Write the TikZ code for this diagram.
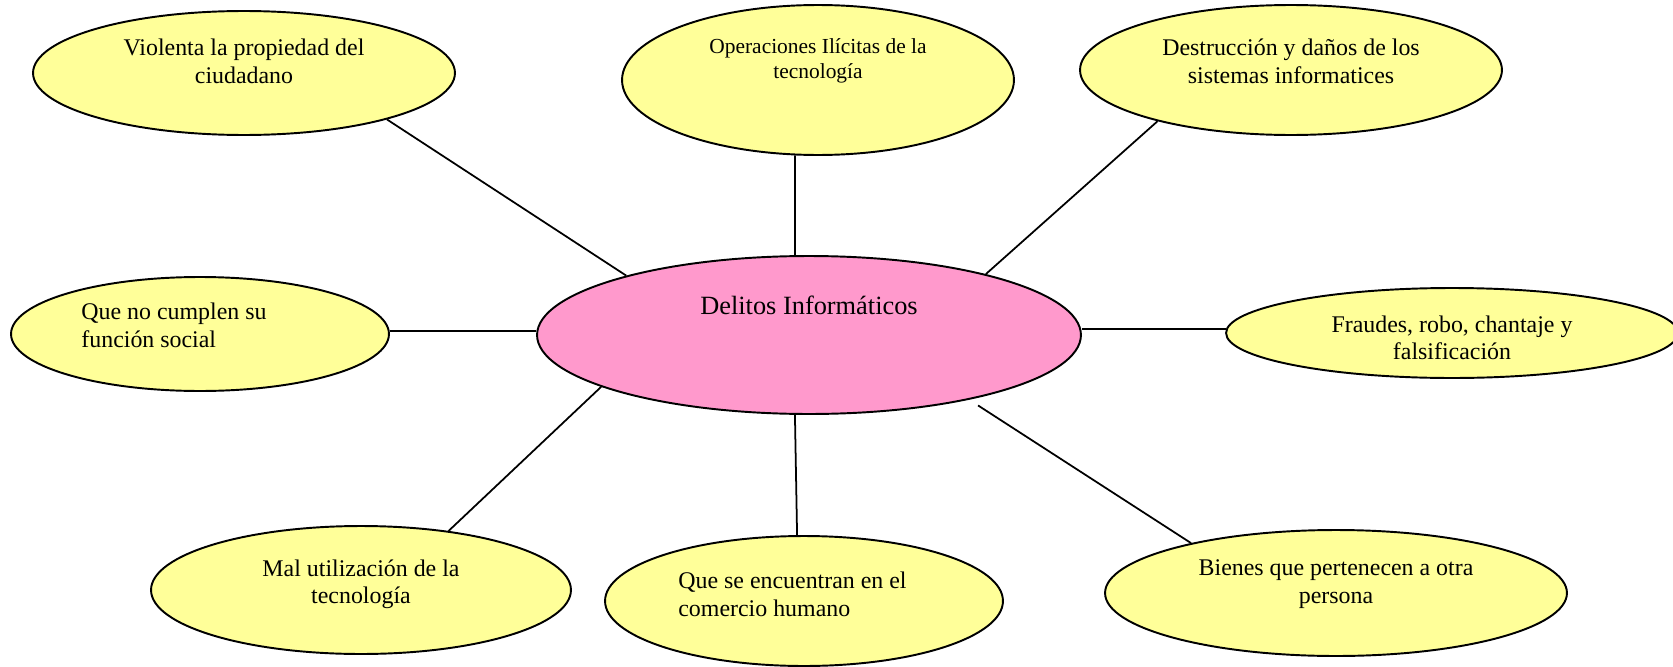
\documentclass[tikz,border=0pt]{standalone}
\usepackage{fontspec}
\setmainfont{Liberation Serif}
\usetikzlibrary{shapes.geometric}
\definecolor{bubyellow}{RGB}{255,255,153}
\definecolor{bubpink}{RGB}{255,153,204}
\tikzset{
	bub/.style={ellipse, draw, fill=bubyellow, inner sep=0pt, line width=1.1pt},
	txt/.style={inner sep=0pt, align=center, font=\fontsize{13.6}{15.8}\selectfont},
	link/.style={line width=1pt}
}
\begin{document}
\begin{tikzpicture}[x=0.02cm, y=-0.02cm]
		\useasboundingbox (0,0) rectangle (1673,666);
		\draw (809,335) node[bub, fill=bubpink, minimum width=10.88cm, minimum height=3.16cm](del){};
		\draw (244,73) node[bub, minimum width=8.44cm, minimum height=2.48cm](vio){};
		\draw (818,80) node[bub, minimum width=7.84cm, minimum height=3cm](ope){};
		\draw (1291,70) node[bub, minimum width=8.44cm, minimum height=2.6cm](des){};
		\draw (200,334) node[bub, minimum width=7.56cm, minimum height=2.28cm](que){};
		\draw (1452,333) node[bub, minimum width=9.04cm, minimum height=1.8cm](fra){};
		\draw (361,590) node[bub, minimum width=8.4cm, minimum height=2.56cm](mal){};
		\draw (804,601) node[bub, minimum width=7.96cm, minimum height=2.6cm](com){};
		\draw (1336,593) node[bub, minimum width=9.24cm, minimum height=2.52cm](bie){};
		\draw[link] (vio.-18) -- (del.162) (ope.-107) -- (del.100) (des.-159) -- (del.19);
		\draw[link] (que.1.5) -- (que.1.5 -| del.west) (fra.179 -| del.east) -- (fra.179);
		\draw[link] (mal.34) -- (del.-166.4) (del.-100) -- (com.96);
		\draw[link, shorten <=6pt] (del.-22) -- (bie.161);
		\draw ([yshift=6.8pt]vio) node[txt]{Violenta la propiedad del\\ciudadano};
		\draw ([yshift=10.8pt]ope) node[txt, font=\fontsize{12.2}{14.6}\selectfont]{Operaciones Ilícitas de la\\tecnología};
		\draw ([yshift=5.1pt]des) node[txt]{Destrucción y daños de los\\sistemas informatices};
		\draw ([yshift=17pt]del) node[txt, font=\fontsize{15}{17}\selectfont]{Delitos Informáticos};
		\draw ([xshift=-67.7pt, yshift=5.1pt]que) node[txt, anchor=west, align=left]{Que no cumplen su\\función social};
		\draw ([yshift=-2.8pt]fra) node[txt]{Fraudes, robo, chantaje y\\falsificación};
		\draw ([yshift=3.3pt]mal) node[txt]{Mal utilización de la\\tecnología};
		\draw ([xshift=-71.7pt, yshift=4pt]com) node[txt, anchor=west, align=left]{Que se encuentran en el\\comercio humano};
		\draw ([yshift=5pt]bie) node[txt]{Bienes que pertenecen a otra\\persona};
	\end{tikzpicture}
\end{document}
